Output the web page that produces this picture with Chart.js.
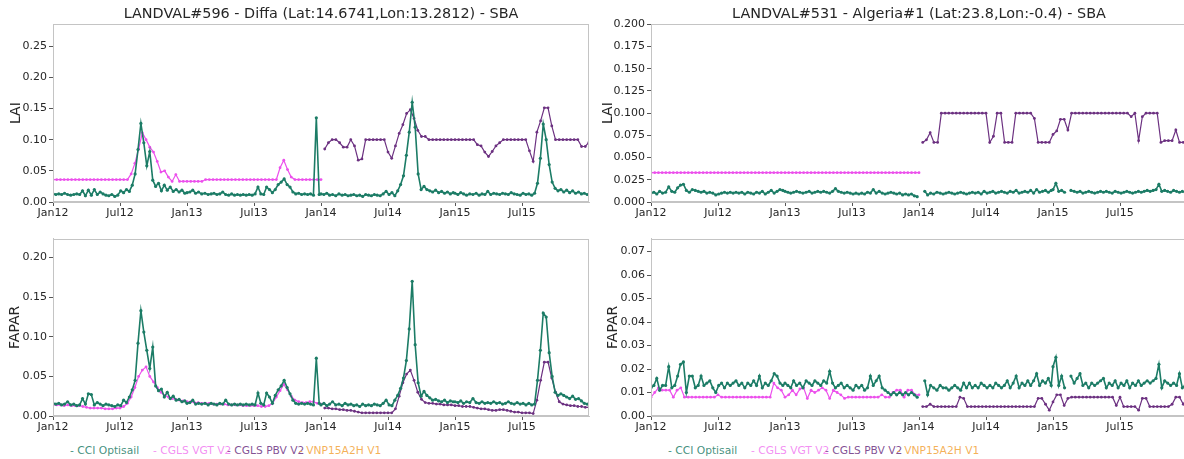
<!DOCTYPE html>
<html>
<head>
<meta charset="utf-8">
<script src="https://cdn.jsdelivr.net/npm/chart.js@4"></script>
<style>
  html, body { margin: 0; padding: 0; width: 1184px; height: 459px; overflow: hidden; background: #fff; }
  canvas { position: absolute; }
  .legend { position: absolute; top: 444px; left: 0; font: 10.7px 'DejaVu Sans', sans-serif; white-space: nowrap; }
  .legend span { position: absolute; top: 0; }
</style>
</head>
<body>
<canvas id="laiDiffa" width="600" height="222" style="left:0;top:0"></canvas>
<canvas id="laiAlgeria" width="610" height="222" style="left:590px;top:0"></canvas>
<canvas id="faparDiffa" width="600" height="206" style="left:0;top:230px"></canvas>
<canvas id="faparAlgeria" width="610" height="206" style="left:590px;top:230px"></canvas>
<div class="legend" id="legendLeft"></div>
<div class="legend" id="legendRight"></div>
<script>
const tickLabels = ['Jan12', 'Jul12', 'Jan13', 'Jul13', 'Jan14', 'Jul14', 'Jan15', 'Jul15'];
const seriesNames = ['CCI Optisail', 'CGLS VGT V2', 'CGLS PBV V2', 'VNP15A2H V1'];

// CCI Optisail: 8-day steps, one row per year 2012..2015 (46 per year)
const cciLaiDiffa = [
  0.013,0.012,0.013,0.012,0.014,0.012,0.011,0.012,0.013,0.012, 0.018,0.010,0.019,0.011,0.020,0.012,0.016,0.013,0.011,0.010, 0.012,0.009,0.011,0.018,0.015,0.020,0.017,0.027,0.045,0.084, 0.126,0.095,0.058,0.081,0.035,0.025,0.030,0.018,0.027,0.019, 0.024,0.017,0.020,0.016,0.019,0.014,
  0.015,0.016,0.019,0.014,0.016,0.013,0.014,0.012,0.013,0.014, 0.012,0.013,0.016,0.012,0.011,0.013,0.011,0.012,0.011,0.012, 0.011,0.012,0.011,0.013,0.024,0.013,0.012,0.024,0.020,0.015, 0.020,0.028,0.032,0.037,0.028,0.024,0.016,0.013,0.014,0.012, 0.013,0.012,0.013,0.011,0.135,0.012,
  0.013,0.012,0.014,0.011,0.012,0.010,0.013,0.011,0.012,0.010, 0.011,0.012,0.010,0.011,0.009,0.012,0.011,0.010,0.012,0.011, 0.010,0.013,0.017,0.012,0.015,0.010,0.018,0.028,0.042,0.075, 0.112,0.160,0.120,0.045,0.020,0.025,0.020,0.018,0.016,0.019, 0.015,0.017,0.014,0.016,0.013,0.015,
  0.014,0.012,0.015,0.013,0.011,0.013,0.012,0.014,0.011,0.013, 0.012,0.017,0.012,0.014,0.013,0.012,0.014,0.013,0.012,0.015, 0.013,0.012,0.011,0.014,0.012,0.013,0.011,0.014,0.030,0.070, 0.125,0.100,0.060,0.032,0.022,0.018,0.020,0.016,0.019,0.015, 0.018,0.014,0.016,0.013,0.014,0.012
];
const cciLaiAlgeria = [
  0.010,0.011,0.009,0.012,0.010,0.011,0.017,0.012,0.011,0.016, 0.019,0.020,0.013,0.011,0.014,0.013,0.012,0.011,0.012,0.010, 0.011,0.010,0.008,0.009,0.010,0.011,0.010,0.011,0.010,0.011, 0.010,0.011,0.009,0.011,0.010,0.009,0.011,0.010,0.012,0.009, 0.011,0.013,0.010,0.012,0.014,0.013,
  0.012,0.011,0.010,0.011,0.012,0.011,0.010,0.011,0.012,0.010, 0.011,0.012,0.011,0.012,0.011,0.010,0.012,0.015,0.012,0.011, 0.010,0.011,0.010,0.009,0.010,0.009,0.010,0.009,0.011,0.010, 0.014,0.010,0.012,0.010,0.009,0.010,0.011,0.010,0.009,0.010, 0.008,0.009,0.008,0.009,0.007,0.006,
  null,null,0.012,0.008,0.010,0.009,0.011,0.010,0.009,0.010, 0.011,0.010,0.009,0.010,0.011,0.010,0.009,0.010,0.011,0.010, 0.011,0.009,0.012,0.010,0.011,0.012,0.010,0.011,0.012,0.011, 0.010,0.012,0.011,0.013,0.010,0.011,0.012,0.011,0.013,0.010, 0.014,0.011,0.012,0.013,0.011,0.013,
  0.014,0.021,0.012,0.013,0.011,null,0.013,0.012,0.011,0.012, 0.010,0.011,0.012,0.011,0.010,0.011,0.012,0.011,0.012,0.011, 0.010,0.012,0.011,0.010,0.011,0.012,0.011,0.010,0.011,0.012, 0.011,0.012,0.013,0.012,0.013,0.014,0.020,0.012,0.013,0.012, 0.011,0.013,0.012,0.011,0.012,0.011
];
const cciFaparDiffa = [
  0.016,0.015,0.016,0.014,0.015,0.018,0.014,0.015,0.013,0.014, 0.022,0.015,0.028,0.027,0.014,0.017,0.015,0.013,0.015,0.014, 0.013,0.012,0.014,0.013,0.020,0.017,0.024,0.033,0.045,0.092, 0.133,0.106,0.083,0.060,0.087,0.038,0.032,0.034,0.024,0.030, 0.022,0.025,0.020,0.021,0.018,0.019,
  0.016,0.017,0.020,0.015,0.016,0.015,0.016,0.014,0.016,0.015, 0.014,0.016,0.015,0.020,0.015,0.014,0.015,0.014,0.015,0.014, 0.015,0.014,0.015,0.014,0.029,0.016,0.014,0.029,0.024,0.016, 0.026,0.033,0.038,0.045,0.036,0.028,0.020,0.016,0.015,0.016, 0.015,0.016,0.015,0.014,0.073,0.016,
  0.014,0.016,0.013,0.015,0.018,0.014,0.015,0.013,0.016,0.014, 0.015,0.013,0.014,0.012,0.015,0.013,0.014,0.013,0.015,0.014, 0.013,0.016,0.020,0.014,0.013,0.020,0.026,0.035,0.048,0.070, 0.110,0.170,0.090,0.042,0.025,0.031,0.026,0.023,0.020,0.021, 0.019,0.018,0.020,0.017,0.019,0.018,
  0.018,0.017,0.019,0.016,0.018,0.017,0.022,0.017,0.016,0.018, 0.016,0.017,0.016,0.018,0.016,0.017,0.015,0.016,0.018,0.016, 0.015,0.017,0.015,0.016,0.014,0.016,0.014,0.015,0.045,0.083, 0.130,0.125,0.080,0.050,0.030,0.026,0.028,0.026,0.024,0.022, 0.025,0.021,0.022,0.019,0.016,0.015
];
const cciFaparAlgeria = [
  0.012,0.013,0.016,0.011,0.013,0.013,0.021,0.012,0.013,0.017, 0.022,0.023,0.010,0.017,0.017,0.012,0.013,0.017,0.013,0.014, 0.015,0.012,0.010,0.013,0.014,0.012,0.014,0.013,0.014,0.015, 0.013,0.014,0.012,0.014,0.013,0.015,0.013,0.017,0.012,0.014, 0.013,0.015,0.018,0.017,0.014,0.013,
  0.014,0.013,0.012,0.015,0.013,0.014,0.012,0.015,0.014,0.013, 0.015,0.014,0.013,0.015,0.014,0.019,0.014,0.012,0.013,0.014, 0.012,0.013,0.012,0.011,0.013,0.012,0.013,0.011,0.012,0.017, 0.013,0.015,0.017,0.012,0.011,0.010,0.009,0.010,0.009,0.010, 0.009,0.010,0.009,0.010,0.009,0.008,
  null,null,0.015,0.009,0.013,0.012,0.011,0.013,0.012,0.012, 0.011,0.012,0.013,0.012,0.011,0.014,0.012,0.014,0.012,0.013, 0.012,0.014,0.013,0.012,0.013,0.012,0.014,0.013,0.012,0.013, 0.015,0.012,0.014,0.017,0.012,0.014,0.013,0.015,0.013,0.015, 0.018,0.013,0.015,0.014,0.016,0.013,
  0.021,0.025,0.013,0.017,0.012,null,0.017,0.014,0.016,0.018, 0.013,0.014,0.012,0.014,0.013,0.014,0.015,0.016,0.012,0.014, 0.013,0.015,0.012,0.014,0.013,0.015,0.012,0.014,0.013,0.015, 0.013,0.014,0.015,0.014,0.015,0.016,0.022,0.012,0.015,0.014, 0.013,0.014,0.013,0.018,0.012,0.013
];

// CGLS VGT V2: dekads from 1 Jan 2012 to 1 Jan 2014
const vgtLaiDiffa = [
  0.036,0.036,0.036,0.036,0.036,0.036,0.036,0.036,0.036,0.036,
  0.036,0.036,0.036,0.036,0.036,0.036,0.036,0.036,0.036,0.036,
  0.036,0.045,0.062,0.085,0.111,0.100,0.088,0.080,0.065,0.048,
  0.050,0.040,0.033,0.044,0.033,0.033,0.033,0.033,0.033,0.033,
  0.033,0.036,0.036,0.036,0.036,0.036,0.036,0.036,0.036,0.036,
  0.036,0.036,0.036,0.036,0.036,0.036,0.036,0.036,0.036,0.036,
  0.036,0.055,0.067,0.052,0.040,0.036,0.036,0.036,0.036,0.036,
  0.036,0.036,0.036
];
const vgtLaiAlgeria = [
  0.033,0.033,0.033,0.033,0.033,0.033,0.033,0.033,0.033,0.033,
  0.033,0.033,0.033,0.033,0.033,0.033,0.033,0.033,0.033,0.033,
  0.033,0.033,0.033,0.033,0.033,0.033,0.033,0.033,0.033,0.033,
  0.033,0.033,0.033,0.033,0.033,0.033,0.033,0.033,0.033,0.033,
  0.033,0.033,0.033,0.033,0.033,0.033,0.033,0.033,0.033,0.033,
  0.033,0.033,0.033,0.033,0.033,0.033,0.033,0.033,0.033,0.033,
  0.033,0.033,0.033,0.033,0.033,0.033,0.033,0.033,0.033,0.033,
  0.033,0.033,0.033
];
const vgtFaparDiffa = [
  0.014,0.014,0.014,0.013,0.014,0.013,0.013,0.013,0.012,0.011,
  0.010,0.010,0.010,0.010,0.009,0.009,0.009,0.010,0.010,0.012,
  0.016,0.024,0.036,0.050,0.058,0.062,0.050,0.043,0.036,0.030,
  0.026,0.024,0.022,0.021,0.020,0.019,0.018,0.018,0.017,0.017,
  0.016,0.016,0.016,0.015,0.015,0.015,0.015,0.014,0.014,0.014,
  0.014,0.013,0.013,0.013,0.013,0.013,0.012,0.012,0.013,0.016,
  0.024,0.032,0.040,0.033,0.025,0.020,0.018,0.017,0.017,0.018,
  0.018,0.016,0.015
];
const vgtFaparAlgeria = [
  0.008,0.010,0.012,0.011,0.011,0.011,0.008,0.011,0.012,0.008,
  0.008,0.008,0.008,0.008,0.008,0.008,0.008,0.008,0.009,0.008,
  0.008,0.008,0.008,0.008,0.008,0.008,0.008,0.008,0.008,0.008,
  0.008,0.008,0.008,0.014,0.012,0.011,0.008,0.009,0.011,0.009,
  0.0115,0.012,0.0075,0.011,0.010,0.011,0.012,0.011,0.0075,0.011,
  0.010,0.009,0.0075,0.008,0.008,0.008,0.008,0.008,0.008,0.008,
  0.008,0.008,0.009,0.008,0.008,0.010,0.011,0.011,0.008,0.011,
  0.011,0.009,0.009
];

// CGLS PBV V2: dekads from 1 Jan 2014 to 1 Jan 2016
const pbvLaiDiffa = [
  null,0.085,0.095,0.100,0.100,0.095,0.088,0.088,0.100,0.090,
  0.067,0.069,0.100,0.100,0.100,0.100,0.100,0.100,0.080,0.070,
  0.090,0.110,0.124,0.142,0.148,0.134,0.115,0.105,0.105,0.100,
  0.100,0.100,0.100,0.100,0.100,0.100,0.100,0.100,0.100,0.100,
  0.100,0.100,0.092,0.090,0.080,0.073,0.081,0.090,0.095,0.100,
  0.100,0.100,0.100,0.100,0.100,0.100,0.082,0.065,0.112,0.130,
  0.151,0.151,0.122,0.100,0.100,0.100,0.100,0.100,0.100,0.100,
  0.089,0.089,0.096
];
const pbvLaiAlgeria = [
  null,0.067,0.070,0.078,0.067,0.067,0.100,0.100,0.100,0.100,
  0.100,0.100,0.100,0.100,0.100,0.100,0.100,0.100,0.100,0.067,
  0.074,0.100,0.100,0.067,0.067,0.067,0.100,0.100,0.100,0.100,
  0.100,0.094,0.067,0.067,0.067,0.067,0.076,0.080,0.093,0.093,
  0.081,0.100,0.100,0.100,0.100,0.100,0.100,0.100,0.100,0.100,
  0.100,0.100,0.100,0.100,0.100,0.100,0.100,0.096,0.100,0.069,
  0.096,0.100,0.100,0.100,0.100,0.067,0.069,0.069,0.069,0.081,
  0.067,0.067,0.067
];
const pbvFaparDiffa = [
  null,0.010,0.010,0.009,0.009,0.008,0.008,0.007,0.007,0.006,
  0.005,0.004,0.004,0.004,0.004,0.004,0.004,0.004,0.004,0.004,
  0.009,0.025,0.042,0.053,0.058,0.045,0.030,0.021,0.017,0.016,
  0.016,0.015,0.015,0.014,0.014,0.014,0.013,0.013,0.012,0.012,
  0.012,0.011,0.010,0.009,0.009,0.008,0.007,0.007,0.008,0.008,
  0.007,0.006,0.005,0.005,0.004,0.004,0.004,0.003,0.020,0.045,
  0.068,0.068,0.048,0.030,0.018,0.015,0.014,0.013,0.013,0.012,
  0.012,0.011,0.011
];
const pbvFaparAlgeria = [
  null,0.004,0.004,0.005,0.004,0.004,0.004,0.004,0.004,0.004,
  0.004,0.008,0.0075,0.004,0.004,0.004,0.004,0.004,0.004,0.004,
  0.004,0.004,0.004,0.004,0.004,0.004,0.004,0.004,0.004,0.004,
  0.004,0.004,0.0075,0.0075,0.005,0.0025,0.006,0.009,0.009,0.0045,
  0.0075,0.008,0.008,0.008,0.008,0.008,0.008,0.008,0.008,0.008,
  0.008,0.008,0.008,0.0045,0.008,0.004,0.004,0.004,0.004,0.0025,
  0.0075,0.0075,0.004,0.004,0.004,0.004,0.004,0.004,0.005,0.008,
  0.008,0.005,0.008
];

// no VNP15A2H retrievals over either site in this period
const vnpValues = [];

const colors = ['#1c7c66', '#ec50ec', '#6c3181', '#f2a33a'];
const legendColors = ['rgba(28,124,102,0.85)', 'rgba(236,80,236,0.65)', 'rgba(108,49,129,0.85)', 'rgba(242,163,58,0.85)'];
const frameColor = '#c4c4c4';
const textColor = '#262626';

Chart.defaults.font.family = "'DejaVu Sans', sans-serif";

// x positions are months since Jan 2012
function monthPos(d) {
  const y = d.getUTCFullYear(), m = d.getUTCMonth();
  const days = new Date(Date.UTC(y, m + 1, 0)).getUTCDate();
  return (y - 2012) * 12 + m + (d.getUTCDate() - 1) / days;
}
function eightDayX(i) {
  const year = 2012 + Math.floor(i / 46);
  return monthPos(new Date(Date.UTC(year, 0, 1 + 8 * (i % 46))));
}
const dekadX = start => k => start + k / 3;

function series(idx, values, xOf, width, radius) {
  return {
    label: seriesNames[idx],
    data: values.map((v, i) => ({ x: xOf(i), y: v })),
    borderColor: colors[idx],
    backgroundColor: colors[idx],
    borderWidth: width,
    pointRadius: radius,
    pointBorderWidth: 0,
    pointBackgroundColor: colors[idx],
    spanGaps: false,
    tension: 0
  };
}

const frame = {
  id: 'frame',
  afterDraw(chart) {
    const { ctx, chartArea: a } = chart;
    ctx.save();
    ctx.strokeStyle = frameColor;
    ctx.lineWidth = 1;
    ctx.strokeRect(Math.round(a.left) + 0.5, Math.round(a.top) + 0.5,
      Math.round(a.right - a.left) - 1, Math.round(a.bottom - a.top) - 1);
    ctx.restore();
  }
};

function panel(id, p) {
  return new Chart(document.getElementById(id), {
    type: 'line',
    data: {
      datasets: [
        series(0, p.cci, eightDayX, 1.6, 1.6),
        series(1, p.vgt, dekadX(0), 1.2, 1.4),
        series(2, p.pbv, dekadX(24), 1.2, 1.4),
        series(3, vnpValues, dekadX(0), 1.2, 1.4)
      ]
    },
    options: {
      responsive: false,
      animation: false,
      events: [],
      layout: { padding: p.padding },
      plugins: {
        legend: { display: false },
        tooltip: { enabled: false },
        title: {
          display: !!p.title,
          text: p.title || '',
          fullSize: false,
          color: textColor,
          font: { size: 14.4, weight: 'normal' },
          padding: { top: 6, bottom: 1 }
        }
      },
      scales: {
        x: {
          type: 'linear',
          min: 0,
          max: 48,
          afterBuildTicks: s => { s.ticks = tickLabels.map((_, i) => ({ value: i * 6 })); },
          afterFit: s => { s.height = 20; },
          ticks: {
            autoSkip: false, maxRotation: 0, padding: 1, color: textColor,
            font: { size: 11 },
            callback: (v, i) => tickLabels[i]
          },
          grid: { drawOnChartArea: false, tickLength: 4, color: '#555' },
          border: { color: frameColor }
        },
        y: {
          min: 0,
          max: p.yMax,
          afterFit: s => { s.width = p.yWidth; },
          ticks: {
            stepSize: p.step, includeBounds: false, padding: 2, color: textColor,
            font: { size: 11 },
            callback: v => v.toFixed(p.decimals)
          },
          title: {
            display: true, text: p.yTitle, color: textColor,
            font: { size: 14 },
            padding: { top: p.titlePad, bottom: 0 }
          },
          grid: { drawOnChartArea: false, tickLength: 4, color: '#555' },
          border: { color: frameColor }
        }
      }
    },
    plugins: [frame]
  });
}

panel('laiDiffa', {
  cci: cciLaiDiffa, vgt: vgtLaiDiffa, pbv: pbvLaiDiffa,
  title: 'LANDVAL#596 - Diffa (Lat:14.6741,Lon:13.2812) - SBA',
  yTitle: 'LAI', yMax: 0.285, step: 0.05, decimals: 2,
  yWidth: 53, titlePad: 8, padding: { left: 0, right: 11, top: 0, bottom: 0 }
});
panel('laiAlgeria', {
  cci: cciLaiAlgeria, vgt: vgtLaiAlgeria, pbv: pbvLaiAlgeria,
  title: 'LANDVAL#531 - Algeria#1 (Lat:23.8,Lon:-0.4) - SBA',
  yTitle: 'LAI', yMax: 0.2, step: 0.025, decimals: 3,
  yWidth: 61, titlePad: 10, padding: { left: 0, right: 13, top: 0, bottom: 0 }
});
panel('faparDiffa', {
  cci: cciFaparDiffa, vgt: vgtFaparDiffa, pbv: pbvFaparDiffa,
  yTitle: 'FAPAR', yMax: 0.224, step: 0.05, decimals: 2,
  yWidth: 53, titlePad: 7, padding: { left: 0, right: 11, top: 8, bottom: 0 }
});
panel('faparAlgeria', {
  cci: cciFaparAlgeria, vgt: vgtFaparAlgeria, pbv: pbvFaparAlgeria,
  yTitle: 'FAPAR', yMax: 0.0755, step: 0.01, decimals: 2,
  yWidth: 61, titlePad: 15, padding: { left: 0, right: 13, top: 8, bottom: 0 }
});

// legend rows under each column
const legendOffsets = [0, 83, 157, 229];
function buildLegend(id, left) {
  const box = document.getElementById(id);
  seriesNames.forEach((name, i) => {
    const s = document.createElement('span');
    s.textContent = '- ' + name;
    s.style.left = (left + legendOffsets[i]) + 'px';
    s.style.color = legendColors[i];
    box.appendChild(s);
  });
}
buildLegend('legendLeft', 70);
buildLegend('legendRight', 668);
</script>
</body>
</html>
